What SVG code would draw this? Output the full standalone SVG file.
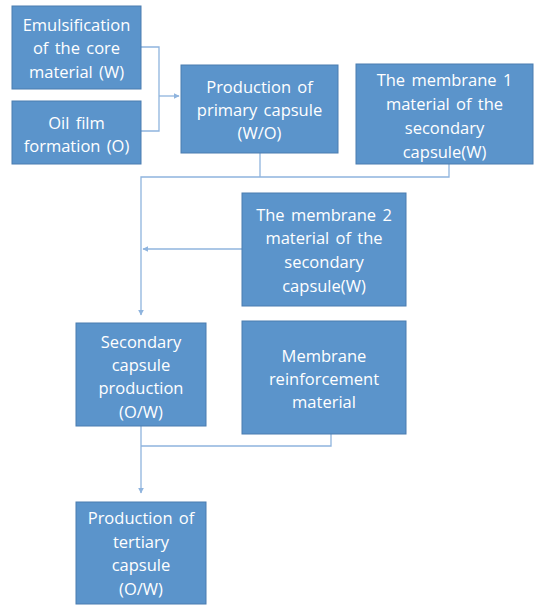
<svg xmlns="http://www.w3.org/2000/svg" width="540" height="606" viewBox="0 0 540 606">
<defs>
<marker id="ah" viewBox="0 0 10 10" refX="9" refY="5" markerWidth="6" markerHeight="6" orient="auto" markerUnits="userSpaceOnUse">
<path d="M0,0 L10,5 L0,10 z" fill="#8FB4DE"/>
</marker>
<style>
.box{fill:#5B94CB;stroke:#4A7DB0;stroke-width:1}
.t{font-family:"Open Sans","Noto Sans",sans-serif;font-size:16.5px;word-spacing:2px;fill:#ffffff;text-anchor:middle}
.c{fill:none;stroke:#8FB4DE;stroke-width:1.3}
</style>
</defs>
<rect width="540" height="606" fill="#ffffff"/>
<g id="connectors">
<path class="c" d="M141,47 H159 V131 H141"/>
<path class="c" d="M159,96 H179" marker-end="url(#ah)"/>
<path class="c" d="M260,153 V177"/>
<path class="c" d="M449,164 V177 H141 V315" marker-end="url(#ah)"/>
<path class="c" d="M242,249 H143" marker-end="url(#ah)"/>
<path class="c" d="M141,426 V493" marker-end="url(#ah)"/>
<path class="c" d="M331,434 V446 H141"/>
</g>
<g id="n1"><rect class="box" x="12" y="6" width="129" height="83"/>
<text class="t" x="76.5" y="31">Emulsification</text><text class="t" x="76.5" y="54">of the core</text><text class="t" x="76.5" y="78">material (W)</text></g>
<g id="n2"><rect class="box" x="12" y="101" width="129" height="63"/>
<text class="t" x="76.5" y="129">Oil film</text><text class="t" x="76.5" y="152">formation (O)</text></g>
<g id="n3"><rect class="box" x="181" y="65" width="157" height="88"/>
<text class="t" x="259.5" y="93">Production of</text><text class="t" x="259.5" y="116">primary capsule</text><text class="t" x="259.5" y="139">(W/O)</text></g>
<g id="n4"><rect class="box" x="356" y="64" width="177" height="100"/>
<text class="t" x="444.5" y="86">The membrane 1</text><text class="t" x="444.5" y="110">material of the</text><text class="t" x="444.5" y="134">secondary</text><text class="t" x="444.5" y="158">capsule(W)</text></g>
<g id="n5"><rect class="box" x="242" y="193" width="164" height="113"/>
<text class="t" x="324" y="221">The membrane 2</text><text class="t" x="324" y="244">material of the</text><text class="t" x="324" y="268">secondary</text><text class="t" x="324" y="292">capsule(W)</text></g>
<g id="n6"><rect class="box" x="76" y="323" width="130" height="103"/>
<text class="t" x="141" y="348">Secondary</text><text class="t" x="141" y="371">capsule</text><text class="t" x="141" y="394">production</text><text class="t" x="141" y="418">(O/W)</text></g>
<g id="n7"><rect class="box" x="242" y="321" width="164" height="113"/>
<text class="t" x="324" y="362">Membrane</text><text class="t" x="324" y="385">reinforcement</text><text class="t" x="324" y="408">material</text></g>
<g id="n8"><rect class="box" x="76" y="502" width="130" height="102"/>
<text class="t" x="141" y="524">Production of</text><text class="t" x="141" y="548">tertiary</text><text class="t" x="141" y="571">capsule</text><text class="t" x="141" y="595">(O/W)</text></g>
</svg>
